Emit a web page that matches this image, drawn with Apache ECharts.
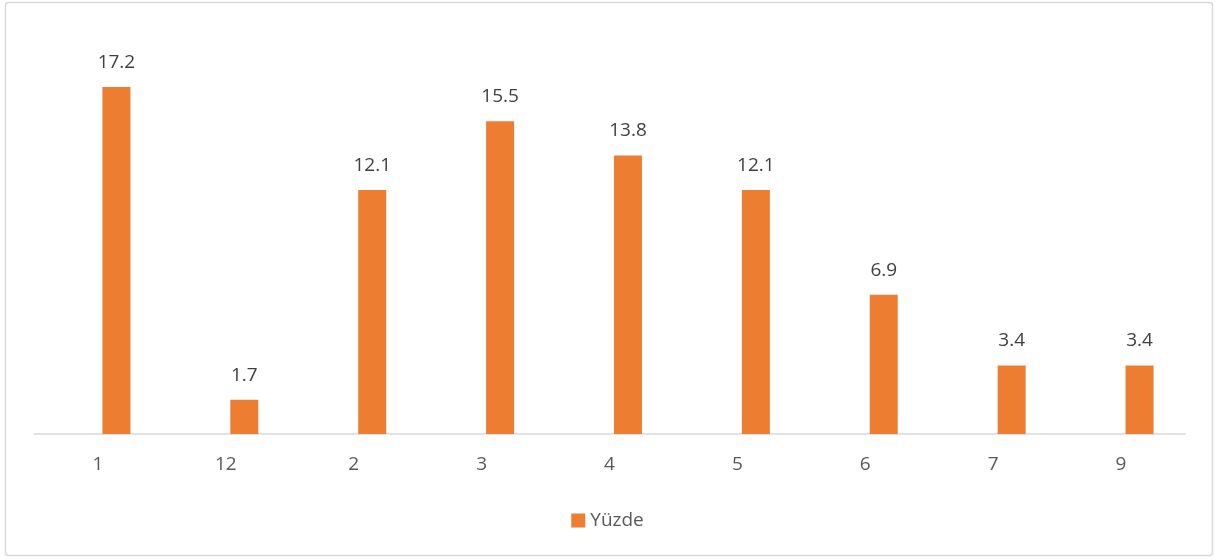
<!DOCTYPE html>
<html><head><meta charset="utf-8">
<script src="https://cdn.jsdelivr.net/npm/echarts@6/dist/echarts.min.js"></script>
<style>html,body{margin:0;padding:0;background:#fff}#c{width:1215px;height:559px}</style>
</head><body><div id="c"></div>
<script>
var categories = ['1','12','2','3','4','5','6','7','9'];
var yuzde = [17.2, 1.7, 12.1, 15.5, 13.8, 12.1, 6.9, 3.4, 3.4];
var hidden = [0,0,0,0,0,0,0,0,0];
var chart = echarts.init(document.getElementById('c'));
var font = '"Open Sans", "Liberation Sans", sans-serif';
chart.setOption({
  animation: false,
  graphic: [{type:'rect', shape:{x:5.5,y:2.5,width:1207,height:553,r:3}, style:{fill:'none',stroke:'#d9d9d9',lineWidth:1.5}, silent:true}],
  grid: {left:34, right:30, top:30.5, bottom:125, containLabel:false},
  legend: {data:['Yüzde'], top:506, left:'center', itemWidth:14, itemHeight:14, icon:'rect', itemGap:6,
    textStyle:{color:'#595959', fontSize:19, fontFamily:font}},
  xAxis: {type:'category', data:categories,
    axisLine:{lineStyle:{color:'#d9d9d9', width:1.5}}, axisTick:{show:false},
    axisLabel:{color:'#595959', fontSize:19, fontFamily:font, margin:21}},
  yAxis: {type:'value', min:0, max:20, interval:2, show:false, splitLine:{show:false}},
  series: [
    {name:'hidden', type:'bar', data:hidden, barWidth:28, barGap:'32%', itemStyle:{color:'transparent'}, silent:true},
    {name:'Yüzde', type:'bar', data:yuzde, barWidth:28, barGap:'32%', itemStyle:{color:'#ed7d31'},
      label:{show:true, position:'top', distance:15, color:'#404040', fontSize:19, fontFamily:font}}
  ]
});
</script></body></html>
